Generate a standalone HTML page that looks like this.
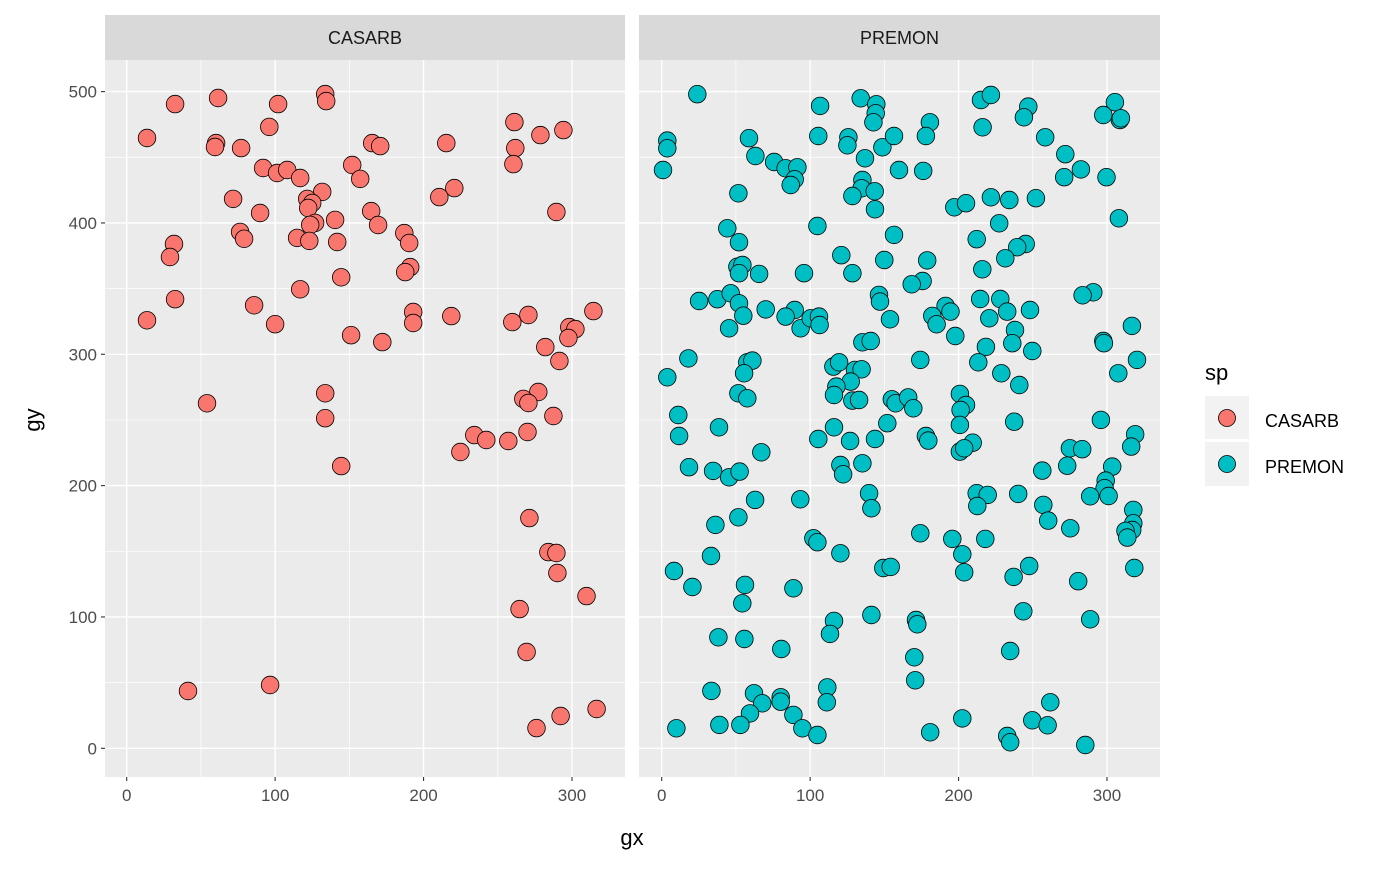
<!DOCTYPE html>
<html><head><meta charset="utf-8"><style>
body{margin:0;background:#fff;}
svg text{font-family:"Liberation Sans",Arial,sans-serif;}
</style></head><body>
<svg id="chart" width="1400" height="866" xmlns="http://www.w3.org/2000/svg">
<rect width="1400" height="866" fill="#fff"/>
<g id="p1"></g>
<g id="p2"></g>
<text x="632" y="845" font-size="22" text-anchor="middle">gx</text>
<text x="40" y="420" font-size="22" text-anchor="middle" transform="rotate(-90 40 420)">gy</text>
<g>
<text x="1205" y="380" font-size="22">sp</text>
<rect x="1205" y="396" width="44" height="43" fill="#F2F2F2"/>
<circle cx="1227" cy="418" r="8.5" fill="#F8766D" stroke="#000" stroke-width="0.8"/>
<text x="1265" y="427" font-size="18">CASARB</text>
<rect x="1205" y="442" width="44" height="44" fill="#F2F2F2"/>
<circle cx="1227" cy="464" r="8.5" fill="#00BFC4" stroke="#000" stroke-width="0.8"/>
<text x="1265" y="473" font-size="18">PREMON</text>
</g>
</svg>
<script>
const xTicks=[0,100,200,300];
const yTicks=[0,100,200,300,400,500];
const casarbX=[32.6,61.6,102.0,133.7,134.4,13.7,96.1,60.2,59.5,77.1,91.9,101.3,108.1,116.9,151.9,157.3,131.7,121.6,125.0,122.3,71.7,89.9,140.4,126.9,123.6,76.4,79.1,114.8,123.0,141.8,31.9,29.2,144.5,116.9,32.6,13.7,85.8,100.0,151.2,54.1,133.7,133.7,261.2,278.7,294.2,261.8,260.5,215.3,165.4,170.8,220.7,210.6,289.5,164.7,169.4,187.0,190.3,191.0,187.6,193.0,193.0,218.7,172.2,259.8,270.6,314.4,298.2,302.3,297.6,282.0,291.5,277.3,267.2,270.6,287.5,144.5,234.2,242.3,257.1,270.0,224.8,271.3,284.1,289.5,290.2,309.8,264.7,269.4,41.3,96.6,316.6,292.3,276.1];
const casarbY=[490.5,495.1,490.5,498.1,492.8,464.7,473.1,460.8,457.8,457.0,441.8,438.0,440.3,434.2,444.1,433.5,423.6,418.3,415.2,411.4,418.3,407.6,402.3,400.0,398.5,393.2,387.9,388.6,386.3,385.5,384.0,374.1,358.6,349.5,341.9,325.9,337.3,322.9,314.5,262.7,270.3,251.3,476.8,466.9,470.7,457.0,444.8,460.8,460.8,458.5,426.5,419.7,408.3,409.0,398.4,392.3,384.7,366.4,362.6,332.2,323.8,329.1,309.3,324.5,329.9,332.9,320.7,319.2,312.4,305.5,294.9,271.3,266.0,262.9,253.0,214.9,238.5,234.7,234.0,240.8,225.6,175.3,149.4,148.7,133.5,115.9,106.0,73.3,43.6,48.2,29.9,24.6,15.4];
const premonX=[24.0,106.7,134.1,144.6,144.2,142.6,3.8,3.8,58.8,105.5,125.8,125.1,148.7,156.5,63.1,75.7,83.5,91.4,89.6,86.9,0.9,137.0,159.9,135.2,134.7,143.5,128.5,143.7,51.7,104.9,156.5,44.2,52.1,121.0,150.0,51.0,54.4,52.1,65.6,95.9,128.5,146.4,147.1,153.8,25.2,37.5,46.5,52.1,55.0,45.4,70.1,89.6,83.5,93.6,100.4,106.0,106.4,135.2,140.8,18.0,3.8,57.7,61.1,55.5,51.7,57.7,115.7,119.5,130.2,134.7,127.3,117.7,116.1,128.5,133.0,155.0,157.6,11.2,
11.7,38.6,116.1,105.5,126.9,143.7,152.0,67.1,18.4,34.6,45.4,52.5,120.4,122.2,135.2,139.7,141.3,62.9,93.4,51.7,36.2,102.2,104.9,120.4,33.2,8.3,20.7,56.1,54.3,88.7,149.3,154.3,116.1,113.4,141.3,38.2,55.7,80.6,33.5,62.2,67.8,80.2,80.2,59.5,88.7,94.8,104.9,111.6,111.2,9.9,38.9,53.0,
215.1,221.8,247.0,244.0,305.3,297.5,308.7,309.4,180.7,178.0,216.2,258.4,271.9,282.4,271.2,299.7,176.2,221.8,234.2,252.1,197.1,205.0,308.0,227.4,212.2,245.2,239.5,231.5,216.0,178.9,175.8,168.4,290.8,283.6,214.6,228.1,232.8,220.7,248.1,191.3,194.6,182.3,185.2,197.8,238.0,236.2,249.7,218.4,213.3,174.2,316.8,297.5,297.9,320.2,307.6,228.8,240.9,166.1,169.5,200.9,205.0,201.4,
200.9,237.5,295.9,178.0,179.6,200.9,209.5,203.8,275.0,283.3,273.2,256.4,303.5,299.1,298.4,301.1,288.7,319.0,316.3,212.2,219.6,212.6,240.2,257.1,260.4,275.3,317.7,317.7,317.0,312.5,313.7,174.2,195.8,218.0,202.5,203.8,237.1,247.6,280.6,318.4,171.3,172.2,243.6,288.7,170.2,170.8,234.8,261.8,202.5,249.7,260.0,180.9,232.8,234.8,285.4];
const premonY=[498.0,489.1,494.9,490.3,483.5,476.6,462.7,456.8,464.5,466.2,465.2,459.1,457.6,466.2,451.0,446.4,441.6,442.4,433.2,428.9,440.3,449.2,440.3,432.7,426.4,424.1,420.5,410.4,422.6,397.7,390.9,395.9,385.3,375.4,371.8,366.7,368.0,361.7,361.2,361.7,361.7,345.2,340.1,326.6,340.6,341.9,346.4,338.8,329.4,319.8,334.2,333.7,328.7,319.8,327.4,328.7,322.3,309.1,310.1,296.9,282.5,293.9,295.2,285.5,270.3,266.5,290.6,293.9,288.1,288.6,279.2,275.4,269.0,264.7,265.2,265.7,262.7,253.8,
237.8,244.4,244.4,235.5,234.0,235.5,247.5,225.4,214.0,211.2,206.3,210.7,215.7,208.6,217.0,194.2,182.7,189.1,189.6,175.9,170.1,159.9,156.9,148.5,146.4,135.0,122.8,124.4,110.4,121.8,137.3,138.1,97.0,87.1,101.5,84.5,83.2,75.6,43.7,41.9,34.3,38.8,35.5,26.6,25.4,15.2,10.1,46.4,35.0,15.2,17.8,17.8,
493.6,497.4,488.6,480.4,491.9,482.2,478.4,479.7,476.6,466.2,472.8,465.2,452.3,440.8,434.8,434.8,439.6,419.5,417.5,418.8,411.9,415.0,403.5,399.7,387.6,384.0,381.5,373.1,364.7,371.5,355.8,353.3,347.2,344.9,342.1,342.1,332.5,327.4,333.7,336.8,332.5,329.2,322.8,313.9,318.5,308.4,302.5,305.6,293.9,295.7,321.6,310.1,308.4,295.7,285.5,285.5,276.6,267.2,258.9,269.8,261.4,257.6,
246.2,248.7,250.0,237.8,234.3,225.9,232.7,228.4,228.4,227.7,215.2,211.4,214.5,203.8,198.0,192.1,191.9,239.1,229.7,194.2,192.9,184.5,193.7,185.3,173.4,167.5,181.5,171.3,166.2,165.5,160.4,163.7,159.4,159.4,147.7,134.0,130.5,138.8,127.2,137.3,97.7,94.4,104.3,98.2,69.3,51.8,74.1,35.0,22.8,21.3,17.5,12.2,9.4,4.6,2.5];

const NS='http://www.w3.org/2000/svg';
function mk(tag,attrs,parent){const e=document.createElementNS(NS,tag);for(const k in attrs)e.setAttribute(k,attrs[k]);parent.appendChild(e);return e;}
const yScale=v=>748.3-1.3134*v;
const panels=[
 {g:document.getElementById('p1'),left:105,right:625,x0:126.7,label:'CASARB',xs:casarbX,ys:casarbY,fill:'#F8766D',key:'casarb'},
 {g:document.getElementById('p2'),left:639,right:1160,x0:661.7,label:'PREMON',xs:premonX,ys:premonY,fill:'#00BFC4',key:'premon'}
];
const pTop=60,pBottom=777;
panels.forEach(p=>{
 const xScale=v=>p.x0+1.4843*v;
 const g=p.g;
 const strip=mk('rect',{x:p.left,y:15,width:p.right-p.left,height:45,fill:'#D9D9D9'},g);
 
 
 const st=mk('text',{x:(p.left+p.right)/2,y:44,'font-size':18,'text-anchor':'middle',fill:'#1A1A1A'},g);
 st.textContent=p.label;
 
 
 const bg=mk('rect',{x:p.left,y:pTop,width:p.right-p.left,height:pBottom-pTop,fill:'#EBEBEB'},g);
 
 
 for(let i=0;i<xTicks.length;i++){const v=xTicks[i]+50;const x=xScale(v);if(x<p.right)mk('line',{x1:x,x2:x,y1:pTop,y2:pBottom,stroke:'#fff','stroke-width':0.7},g);}
 for(let i=0;i<yTicks.length-1;i++){const y=yScale(yTicks[i]+50);mk('line',{x1:p.left,x2:p.right,y1:y,y2:y,stroke:'#fff','stroke-width':0.7},g);}
 xTicks.forEach(v=>{const x=xScale(v);
  const gl=mk('line',{x1:x,x2:x,y1:pTop,y2:pBottom,stroke:'#fff','stroke-width':1.4},g);
  
  
  mk('line',{x1:x,x2:x,y1:pBottom,y2:pBottom+4,stroke:'#333','stroke-width':1.1},g);
  const t=mk('text',{x:x,y:pBottom+24,'font-size':17,'text-anchor':'middle',fill:'#4D4D4D'},g);
  t.textContent=v;
  
  
 });
 yTicks.forEach(v=>{const y=yScale(v);
  const gl=mk('line',{x1:p.left,x2:p.right,y1:y,y2:y,stroke:'#fff','stroke-width':1.4},g);
  
  
  if(p.key==='casarb'){
   mk('line',{x1:p.left-4,x2:p.left,y1:y,y2:y,stroke:'#333','stroke-width':1.1},g);
   const t=mk('text',{x:p.left-8,y:y+6,'font-size':17,'text-anchor':'end',fill:'#4D4D4D'},g);
   t.textContent=v;
   
   
  }
 });
 for(let i=0;i<p.xs.length;i++){
  const c=mk('circle',{cx:xScale(p.xs[i]).toFixed(1),cy:yScale(p.ys[i]).toFixed(1),r:8.8,fill:p.fill,stroke:'#000','stroke-width':0.8},g);
  
  
 }
});
</script>
</body></html>
